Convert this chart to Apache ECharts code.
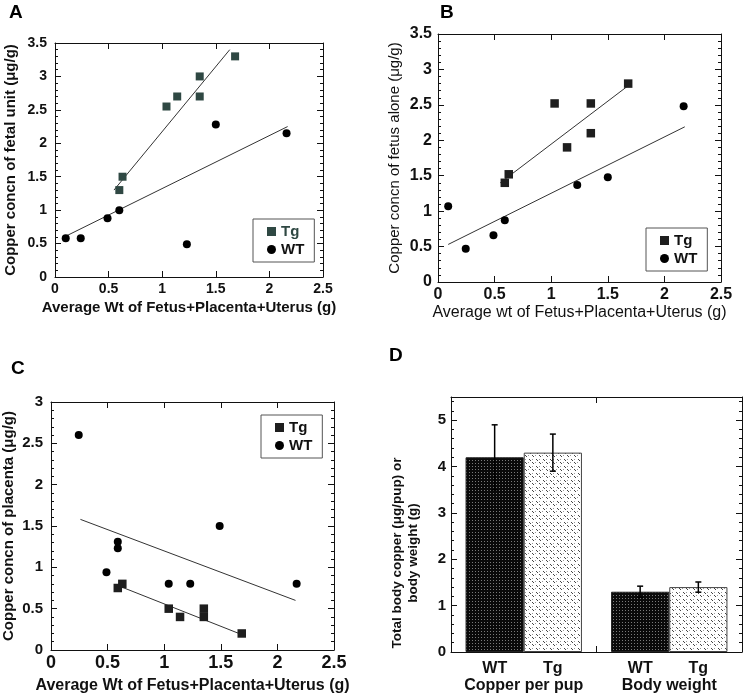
<!DOCTYPE html>
<html>
<head>
<meta charset="utf-8">
<script src="https://cdn.jsdelivr.net/npm/echarts@6/dist/echarts.min.js"></script>
<style>html,body{margin:0;padding:0;background:#fff}#c{width:745px;height:695px}</style>
</head>
<body>
<div id="c"></div>
<script>
// ---------- DATA ----------
// Panel A: copper concn of fetal unit
const A_Tg_x = [0.60, 0.63, 1.04, 1.14, 1.35, 1.35, 1.68];
const A_Tg_y = [1.30, 1.50, 2.55, 2.70, 3.00, 2.70, 3.30];
const A_WT_x = [0.10, 0.24, 0.49, 0.60, 1.23, 1.50, 2.16];
const A_WT_y = [0.58, 0.58, 0.88, 1.00, 0.49, 2.28, 2.15];
const A_TgFit_x = [0.55, 1.63];
const A_TgFit_y = [1.30, 3.40];
const A_WTFit_x = [0.10, 2.17];
const A_WTFit_y = [0.61, 2.25];
// Panel B: copper concn of fetus alone
const B_Tg_x = [0.59, 0.625, 1.03, 1.14, 1.35, 1.35, 1.68];
const B_Tg_y = [1.40, 1.52, 2.52, 1.90, 2.52, 2.10, 2.80];
const B_WT_x = [0.09, 0.245, 0.49, 0.59, 1.23, 1.50, 2.17];
const B_WT_y = [1.07, 0.47, 0.66, 0.87, 1.37, 1.48, 2.48];
const B_TgFit_x = [0.55, 1.68];
const B_TgFit_y = [1.40, 2.77];
const B_WTFit_x = [0.09, 2.18];
const B_WTFit_y = [0.53, 2.19];
// Panel C: copper concn of placenta
const C_Tg_x = [0.59, 0.63, 1.04, 1.14, 1.35, 1.35, 1.685];
const C_Tg_y = [0.75, 0.80, 0.50, 0.40, 0.50, 0.40, 0.20];
const C_WT_x = [0.245, 0.49, 0.59, 0.59, 1.04, 1.23, 1.49, 2.17];
const C_WT_y = [2.60, 0.94, 1.31, 1.23, 0.80, 0.80, 1.50, 0.80];
const C_WTFit_x = [0.26, 2.16];
const C_WTFit_y = [1.58, 0.60];
const C_TgFit_x = [0.59, 1.66];
const C_TgFit_y = [0.78, 0.20];
// Panel D: total body copper / body weight
const D_groups = ['Copper per pup', 'Body weight'];
const D_bars = ['WT', 'Tg'];
const D_WT_mean = [4.2, 1.3];
const D_WT_err = [0.7, 0.12];
const D_Tg_mean = [4.3, 1.4];
const D_Tg_err = [0.4, 0.11];

// ---------- helpers ----------
const FONT = 'Liberation Sans, Arial, Helvetica, sans-serif';
const zip = (xs, ys) => xs.map((x, i) => [x, ys[i]]);

function makePattern(kind) {
  const c = document.createElement('canvas');
  const ctx = c.getContext('2d');
  if (kind === 'dark') {
    c.width = 3; c.height = 3;
    ctx.fillStyle = '#0a0a0a'; ctx.fillRect(0, 0, 3, 3);
    ctx.fillStyle = '#7a7a7a'; ctx.fillRect(1, 1, 1, 1);
  } else {
    c.width = 7; c.height = 7;
    ctx.fillStyle = '#ffffff'; ctx.fillRect(0, 0, 7, 7);
    ctx.fillStyle = '#444444';
    ctx.fillRect(0, 0, 1, 1); ctx.fillRect(1, 1, 1, 1);
    ctx.fillRect(4, 4, 1, 1); ctx.fillRect(5, 5, 1, 1);
    ctx.fillStyle = '#999999';
    ctx.fillRect(3, 0, 1, 1); ctx.fillRect(0, 4, 1, 1);
  }
  return { image: c, repeat: 'repeat' };
}

function valAxis(grid, pos, min, max, interval, opts) {
  opts = opts || {};
  const main = pos === 'bottom' || pos === 'left';
  const isY = pos === 'left' || pos === 'right';
  return Object.assign({
    type: 'value', gridIndex: grid, position: pos, min: min, max: max, interval: interval,
    axisLine: { show: true, onZero: false, lineStyle: { color: '#111', width: 1 } },
    axisTick: { show: true, inside: true, length: 6, lineStyle: { color: '#111' } },
    minorTick: isY ? { show: true, splitNumber: 5, length: 3, lineStyle: { color: '#111' } } : { show: false },
    splitLine: { show: false },
    axisLabel: main ? { show: true, color: '#111', fontFamily: FONT, fontWeight: 'bold', fontSize: 13 } : { show: false },
    nameLocation: 'middle'
  }, opts);
}

function scatter(name, xi, data, symbol, color, size) {
  return { type: 'scatter', name: name, xAxisIndex: xi, yAxisIndex: xi, data: data,
    symbol: symbol, symbolSize: size, itemStyle: { color: color, opacity: 1 }, z: 3 };
}
function fitLine(name, xi, data) {
  return { type: 'line', name: name, xAxisIndex: xi, yAxisIndex: xi, data: data,
    showSymbol: false, symbol: 'none', lineStyle: { color: '#333', width: 1 }, z: 2, silent: true };
}
function legend(prefix, left, top, w, h) {
  return {
    orient: 'vertical', left: left, top: top, width: w, height: h,
    data: [{ name: prefix + '-Tg', icon: 'rect' }, { name: prefix + '-WT', icon: 'circle' }],
    formatter: n => n.split('-')[1],
    itemWidth: 9, itemHeight: 9, itemGap: 3,
    borderColor: '#555', borderWidth: 1, backgroundColor: '#fff',
    padding: [5, 10, 5, 14],
    textStyle: { fontFamily: FONT, fontWeight: 'bold', fontSize: 15, color: '#111' },
    selectedMode: false
  };
}
function errSeries(sign, means, errs) {
  return {
    type: 'custom', xAxisIndex: 6, yAxisIndex: 6, z: 5, silent: true,
    data: means.map((m, i) => [i, m, errs[i]]),
    renderItem: function (params, api) {
      const band = api.size([1, 0])[0];
      const cat = api.value(0), m = api.value(1), e = api.value(2);
      const x = api.coord([cat, m])[0] + sign * band * 0.2;
      const yt = api.coord([cat, m + e])[1];
      const yb = api.coord([cat, m - e])[1];
      const st = { stroke: '#000', lineWidth: 1.5 };
      return { type: 'group', children: [
        { type: 'line', shape: { x1: x, y1: yt, x2: x, y2: yb }, style: st },
        { type: 'line', shape: { x1: x - 3, y1: yt, x2: x + 3, y2: yt }, style: st },
        { type: 'line', shape: { x1: x - 3, y1: yb, x2: x + 3, y2: yb }, style: st }
      ] };
    }
  };
}

const chart = echarts.init(document.getElementById('c'), null, { renderer: 'canvas' });
const tgA = '#2f4843';
const dark = '#1e1e1e';

const catRich = { width: 58, align: 'center', fontWeight: 'bold', fontSize: 16, fontFamily: FONT, color: '#111', lineHeight: 17 };
const catLabel = {
  show: true, margin: 8, color: '#111', fontFamily: FONT,
  formatter: v => '{a|' + D_bars[0] + '}{b|' + D_bars[1] + '}\n{g|' + v + '}',
  rich: {
    a: catRich, b: catRich,
    g: { fontWeight: 'bold', fontSize: 16, fontFamily: FONT, color: '#111', lineHeight: 17 }
  }
};
const catAxis = (pos, label) => ({
  type: 'category', gridIndex: 3, position: pos, data: D_groups,
  axisLine: { show: true, onZero: false, lineStyle: { color: '#111' } },
  axisTick: { show: true, inside: true, length: 6, lineStyle: { color: '#111' } },
  axisLabel: label, splitLine: { show: false }
});

const option = {
  backgroundColor: '#fff',
  animation: false,
  textStyle: { fontFamily: FONT },
  title: [
    { text: 'A', left: 9, top: 3, padding: 0, textStyle: { fontSize: 19, fontWeight: 'bold', fontFamily: FONT, color: '#000' } },
    { text: 'B', left: 440, top: 3, padding: 0, textStyle: { fontSize: 19, fontWeight: 'bold', fontFamily: FONT, color: '#000' } },
    { text: 'C', left: 11, top: 359, padding: 0, textStyle: { fontSize: 19, fontWeight: 'bold', fontFamily: FONT, color: '#000' } },
    { text: 'D', left: 389, top: 346, padding: 0, textStyle: { fontSize: 19, fontWeight: 'bold', fontFamily: FONT, color: '#000' } }
  ],
  grid: [
    { left: 55, top: 43, width: 268, height: 234 },
    { left: 438, top: 34, width: 283, height: 248 },
    { left: 51, top: 402, width: 283, height: 249 },
    { left: 451, top: 397, width: 291, height: 255 }
  ],
  legend: [
    legend('A', 253, 219, 62, 40),
    legend('B', 646, 228, 66, 45),
    legend('C', 261, 415, 64, 42)
  ],
  xAxis: [
    valAxis(0, 'bottom', 0, 2.5, 0.5, { name: 'Average Wt of Fetus+Placenta+Uterus (g)', nameGap: 23,
      nameTextStyle: { fontFamily: FONT, fontWeight: 'bold', fontSize: 15, color: '#111' },
      axisLabel: { color: '#111', fontFamily: FONT, fontWeight: 'bold', fontSize: 14, margin: 5 } }),
    valAxis(0, 'top', 0, 2.5, 0.5),
    valAxis(1, 'bottom', 0, 2.5, 0.5, { name: 'Average wt of Fetus+Placenta+Uterus (g)', nameGap: 23,
      nameTextStyle: { fontFamily: FONT, fontWeight: 'normal', fontSize: 16, color: '#111' },
      axisLabel: { color: '#111', fontFamily: FONT, fontWeight: 'bold', fontSize: 16, margin: 5 } }),
    valAxis(1, 'top', 0, 2.5, 0.5),
    valAxis(2, 'bottom', 0, 2.5, 0.5, { name: 'Average Wt of Fetus+Placenta+Uterus (g)', nameGap: 28,
      nameTextStyle: { fontFamily: FONT, fontWeight: 'bold', fontSize: 16, color: '#111' },
      axisLabel: { color: '#111', fontFamily: FONT, fontWeight: 'bold', fontSize: 18, margin: 4 } }),
    valAxis(2, 'top', 0, 2.5, 0.5),
    catAxis('bottom', catLabel),
    catAxis('top', { show: false })
  ],
  yAxis: [
    valAxis(0, 'left', 0, 3.5, 0.5, { name: 'Copper concn of fetal unit (\u03bcg/g)', nameGap: 37,
      nameTextStyle: { fontFamily: FONT, fontWeight: 'bold', fontSize: 15, color: '#111' },
      axisLabel: { color: '#111', fontFamily: FONT, fontWeight: 'bold', fontSize: 14, margin: 8 } }),
    valAxis(0, 'right', 0, 3.5, 0.5),
    valAxis(1, 'left', 0, 3.5, 0.5, { name: 'Copper concn of fetus alone (\u03bcg/g)', nameGap: 36,
      nameTextStyle: { fontFamily: FONT, fontWeight: 'normal', fontSize: 15, color: '#111' },
      axisLabel: { color: '#111', fontFamily: FONT, fontWeight: 'bold', fontSize: 16, margin: 6 } }),
    valAxis(1, 'right', 0, 3.5, 0.5),
    valAxis(2, 'left', 0, 3, 0.5, { name: 'Copper concn of placenta (\u03bcg/g)', nameGap: 35,
      nameTextStyle: { fontFamily: FONT, fontWeight: 'bold', fontSize: 15, color: '#111' },
      axisLabel: { color: '#111', fontFamily: FONT, fontWeight: 'bold', fontSize: 15, margin: 8 } }),
    valAxis(2, 'right', 0, 3, 0.5),
    valAxis(3, 'left', 0, 5.5, 1, {
      axisLabel: { color: '#111', fontFamily: FONT, fontWeight: 'bold', fontSize: 15, margin: 5, showMaxLabel: false } }),
    valAxis(3, 'right', 0, 5.5, 1)
  ],
  graphic: [
    { type: 'text', x: 405, y: 553, rotation: Math.PI / 2,
      style: { text: 'Total body copper (\u03bcg/pup) or\nbody weight (g)', textAlign: 'center', textVerticalAlign: 'middle',
        font: 'bold 13.5px ' + FONT, fill: '#111', lineHeight: 16 } }
  ],
  series: [
    fitLine('A-TgFit', 0, zip(A_TgFit_x, A_TgFit_y)),
    fitLine('A-WTFit', 0, zip(A_WTFit_x, A_WTFit_y)),
    scatter('A-Tg', 0, zip(A_Tg_x, A_Tg_y), 'rect', tgA, 8),
    scatter('A-WT', 0, zip(A_WT_x, A_WT_y), 'circle', '#000', 8),
    fitLine('B-TgFit', 2, zip(B_TgFit_x, B_TgFit_y)),
    fitLine('B-WTFit', 2, zip(B_WTFit_x, B_WTFit_y)),
    scatter('B-Tg', 2, zip(B_Tg_x, B_Tg_y), 'rect', dark, 8.5),
    scatter('B-WT', 2, zip(B_WT_x, B_WT_y), 'circle', '#000', 8),
    fitLine('C-WTFit', 4, zip(C_WTFit_x, C_WTFit_y)),
    fitLine('C-TgFit', 4, zip(C_TgFit_x, C_TgFit_y)),
    scatter('C-Tg', 4, zip(C_Tg_x, C_Tg_y), 'rect', dark, 8.5),
    scatter('C-WT', 4, zip(C_WT_x, C_WT_y), 'circle', '#000', 8),
    { type: 'bar', name: 'D-WT', xAxisIndex: 6, yAxisIndex: 6, data: D_WT_mean,
      barGap: '0%', barCategoryGap: '20%',
      itemStyle: { color: makePattern('dark'), borderColor: '#222', borderWidth: 1 } },
    { type: 'bar', name: 'D-Tg', xAxisIndex: 6, yAxisIndex: 6, data: D_Tg_mean,
      barGap: '0%', barCategoryGap: '20%',
      itemStyle: { color: makePattern('light'), borderColor: '#444', borderWidth: 1 } },
    errSeries(-1, D_WT_mean, D_WT_err),
    errSeries(1, D_Tg_mean, D_Tg_err)
  ]
};
option.legend[0].data[0].textStyle = { color: tgA };
chart.setOption(option);
</script>
</body>
</html>
